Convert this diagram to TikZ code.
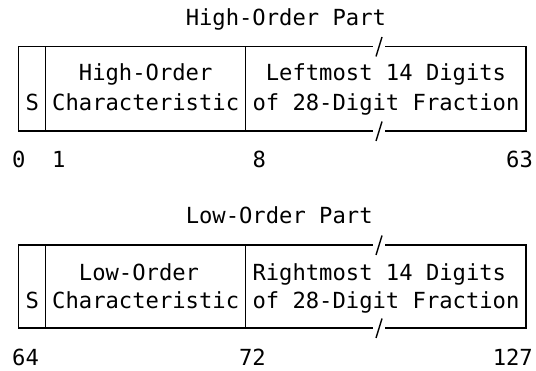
\documentclass[tikz,border=0pt]{standalone}
\usepackage{fontspec}
\newfontfamily\dmono{DejaVu Sans Mono}
\begin{document}
\begin{tikzpicture}[x=1pt,y=-1pt,
  txt/.style={font=\dmono\fontsize{22.17}{28}\selectfont, anchor=base west, inner sep=0pt},
  boxline/.style={line width=1.2pt, line cap=rect},
  slashline/.style={line width=1.4pt}]
\useasboundingbox (0,0) rectangle (536,371);

% ---------------- High-Order Part ----------------
\node[txt] (title1) at (185.55,25.5) {High-Order Part};
\coordinate (a1) at (18.7,46.7);
\coordinate (b1) at (525.98,46.7);
\coordinate (c1) at (18.7,131);
\coordinate (d1) at (525.98,131);
\coordinate (g1l) at (372.45,46.7);
\coordinate (g1r) at (385.8,46.7);
\coordinate (h1l) at (372.45,131);
\coordinate (h1r) at (385.8,131);
\draw[boxline] (g1l) -- (a1) -- (c1) -- (h1l);
\draw[boxline] (g1r) -- (b1) -- (d1) -- (h1r);
\coordinate (s1t) at (45.4,46.7);
\coordinate (s1b) at (45.4,131);
\coordinate (k1t) at (245.6,46.7);
\coordinate (k1b) at (245.6,131);
\draw[boxline] (s1t) -- (s1b);
\draw[boxline] (k1t) -- (k1b);
\coordinate (sl1a) at (376,56.5);
\coordinate (sl1b) at (382,37);
\coordinate (sl2a) at (376,141);
\coordinate (sl2b) at (382,121.5);
\draw[slashline] (sl1a) -- (sl1b);
\draw[slashline] (sl2a) -- (sl2b);

\node[txt] (hs) at (25.35,110.5) {S};
\node[txt] (hc1) at (78.75,81) {High-Order};
\node[txt] (hc2) at (52.05,110.5) {Characteristic};
\node[txt] (hf1) at (265.65,81) {Leftmost 14 Digits};
\node[txt] (hf2) at (252.3,110.5) {of 28-Digit Fraction};

\node[txt] (n0) at (12,168) {0};
\node[txt] (n1) at (52.05,168) {1};
\node[txt] (n8) at (252.3,168) {8};
\node[txt] (n63) at (505.95,168) {63};

% ---------------- Low-Order Part ----------------
\node[txt] (title2) at (185.55,223.5) {Low-Order Part};
\coordinate (a2) at (18.7,245);
\coordinate (b2) at (525.98,245);
\coordinate (c2) at (18.7,328);
\coordinate (d2) at (525.98,328);
\coordinate (g2l) at (372.45,245);
\coordinate (g2r) at (385.8,245);
\coordinate (h2l) at (372.45,328);
\coordinate (h2r) at (385.8,328);
\draw[boxline] (g2l) -- (a2) -- (c2) -- (h2l);
\draw[boxline] (g2r) -- (b2) -- (d2) -- (h2r);
\coordinate (s2t) at (45.4,245);
\coordinate (s2b) at (45.4,328);
\coordinate (k2t) at (245.6,245);
\coordinate (k2b) at (245.6,328);
\draw[boxline] (s2t) -- (s2b);
\draw[boxline] (k2t) -- (k2b);
\coordinate (sl3a) at (376,255);
\coordinate (sl3b) at (382,235.5);
\coordinate (sl4a) at (376,338);
\coordinate (sl4b) at (382,318.5);
\draw[slashline] (sl3a) -- (sl3b);
\draw[slashline] (sl4a) -- (sl4b);

\node[txt] (ls) at (25.35,309) {S};
\node[txt] (lc1) at (78.75,280.5) {Low-Order};
\node[txt] (lc2) at (52.05,309) {Characteristic};
\node[txt] (lf1) at (252.3,280.5) {Rightmost 14 Digits};
\node[txt] (lf2) at (252.3,309) {of 28-Digit Fraction};

\node[txt] (n64) at (12,366) {64};
\node[txt] (n72) at (238.95,366) {72};
\node[txt] (n127) at (492.6,366) {127};
\end{tikzpicture}
\end{document}
